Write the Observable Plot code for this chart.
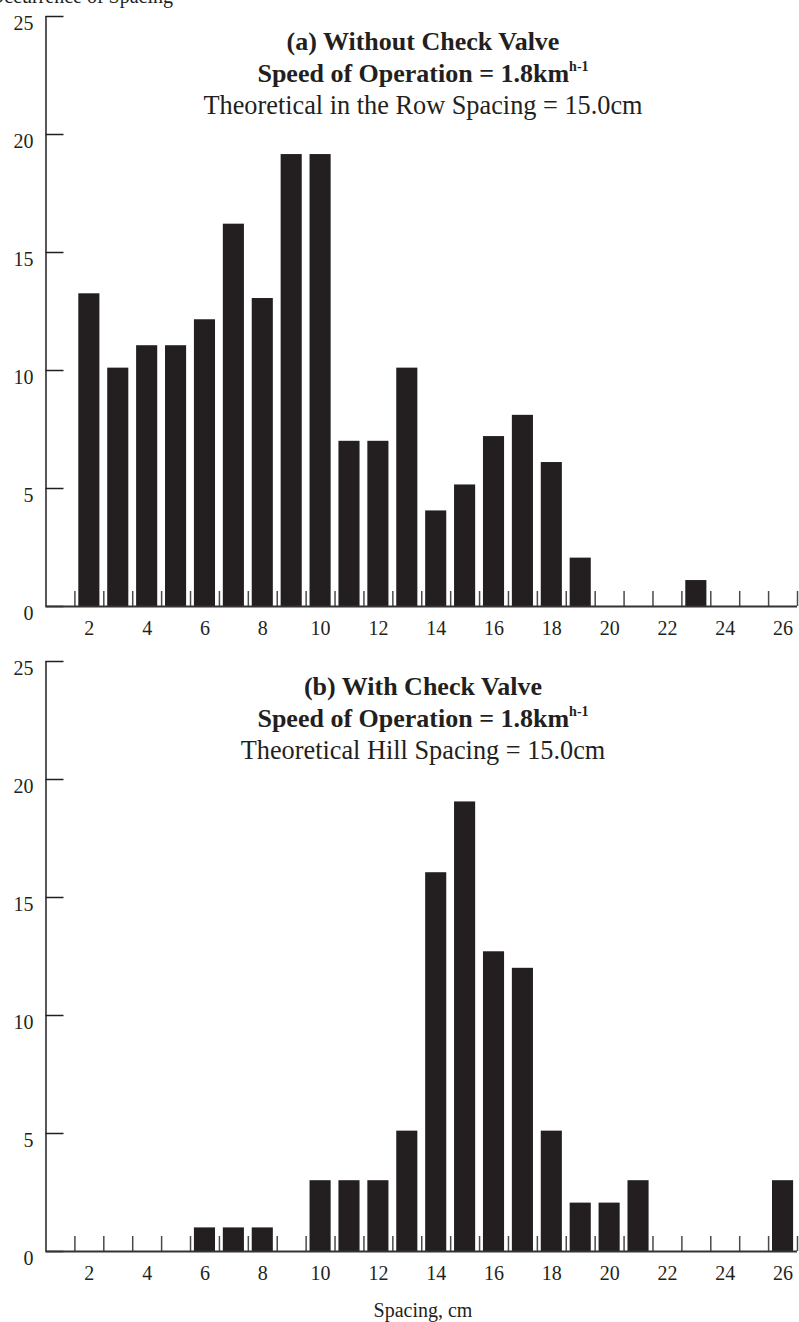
<!DOCTYPE html>
<html>
<head>
<meta charset="utf-8">
<script src="https://cdn.jsdelivr.net/npm/d3@7"></script>
<script src="https://cdn.jsdelivr.net/npm/@observablehq/plot@0.6"></script>
<style>
  html, body { margin: 0; padding: 0; background: #fff; }
  #chart svg { display: block; }
</style>
</head>
<body>
<div id="chart"></div>
<script>
// Spacing classes (cm) shared by both panels
const spacing = [1, 2, 3, 4, 5, 6, 7, 8, 9, 10, 11, 12, 13, 14, 15, 16, 17, 18, 19, 20, 21, 22, 23, 24, 25, 26];

// Occurrence counts, panel (a): without check valve
const countWithout = [0, 13.25, 10.1, 11.05, 11.05, 12.15, 16.2, 13.05, 19.15, 19.15, 7, 7, 10.1,
  4.05, 5.15, 7.2, 8.1, 6.1, 2.05, 0, 0, 0, 1.1, 0, 0, 0];

// Occurrence counts, panel (b): with check valve
const countWith = [0, 0, 0, 0, 0, 1, 1, 1, 0, 3, 3, 3, 5.1,
  16.05, 19.05, 12.7, 12, 5.1, 2.05, 2.05, 3, 0, 0, 0, 0, 3];

// Axis tick labels
const xTickLabels = [2, 4, 6, 8, 10, 12, 14, 16, 18, 20, 22, 24, 26];
const yTicks = [0, 5, 10, 15, 20, 25];

const titlesA = ["(a) Without Check Valve", "Speed of Operation = 1.8km", "h-1", "Theoretical in the Row Spacing = 15.0cm"];
const titlesB = ["(b) With Check Valve", "Speed of Operation = 1.8km", "h-1", "Theoretical Hill Spacing = 15.0cm"];

const ink = "#231f20";
const serif = "'Liberation Serif', 'Times New Roman', serif";
const W = 799, ML = 45.5, MR = 2, MT = 16;
const step = (W - ML - MR) / spacing.length;
const frameW = W - ML - MR;

function panel(counts, titles, height, marginBottom, xLabel) {
  const rows = spacing.map((s, i) => ({spacing: s, count: counts[i]})).filter(d => d.count > 0);
  const frameH = height - MT - marginBottom;
  const plot = Plot.plot({
    width: W,
    height,
    marginTop: MT,
    marginBottom,
    marginLeft: ML,
    marginRight: MR,
    style: {background: "#fff", fontFamily: serif, fontSize: "20px", color: ink, overflow: "hidden"},
    x: {type: "band", domain: spacing, paddingInner: 0.27, paddingOuter: 0.135, round: false, axis: null},
    y: {domain: [0, 25], axis: null},
    marks: [
      Plot.barY(rows, {x: "spacing", y: "count", fill: ink}),
      // class-boundary ticks standing up from the baseline
      Plot.ruleX(spacing, {x: d => d, dx: step / 2, insetTop: frameH - 15, stroke: "#4a4a4a", strokeWidth: 1.5}),
      // inward y ticks
      Plot.ruleY(yTicks, {y: d => d, insetRight: frameW - 18, stroke: ink, strokeWidth: 1.5}),
      // y axis line
      Plot.ruleX([spacing[0]], {x: d => d, dx: -step / 2, stroke: ink, strokeWidth: 1.5}),
      // baseline
      Plot.ruleY([0], {stroke: "#333", strokeWidth: 2}),
      Plot.text(xTickLabels, {x: d => d, frameAnchor: "bottom", dy: 28, fill: ink, fontSize: 20}),
      Plot.text(yTicks, {y: d => d, frameAnchor: "left", textAnchor: "end", dx: -12.5, dy: 7, fill: ink, fontSize: 20})
    ]
  });

  const svg = d3.select(plot);
  const g = svg.append("g")
    .attr("text-anchor", "middle")
    .attr("font-family", serif)
    .attr("fill", ink);
  const cx = 423;
  g.append("text").attr("x", cx).attr("y", 50).attr("font-size", 26).attr("font-weight", "bold").text(titles[0]);
  const t2 = g.append("text").attr("x", cx).attr("y", 81.5).attr("font-size", 26).attr("font-weight", "bold");
  t2.append("tspan").text(titles[1]);
  t2.append("tspan").attr("font-size", 14).attr("dy", -11).text(titles[2]);
  g.append("text").attr("x", cx).attr("y", 113.5).attr("font-size", 26.3).text(titles[3]);
  if (xLabel) {
    g.append("text").attr("x", cx).attr("y", height - 5).attr("font-size", 20).text(xLabel);
  }
  return plot;
}

const panelA = panel(countWithout, titlesA, 645, 39, null);
// y-axis title, partly above the top edge of the page
d3.select(panelA).append("text")
  .attr("x", 173).attr("y", 3)
  .attr("text-anchor", "end")
  .attr("font-family", serif)
  .attr("font-size", 20)
  .attr("fill", ink)
  .text("Occurrence of Spacing");

const panelB = panel(countWith, titlesB, 677, 71, "Spacing, cm");

document.getElementById("chart").append(panelA, panelB);
</script>
</body>
</html>
